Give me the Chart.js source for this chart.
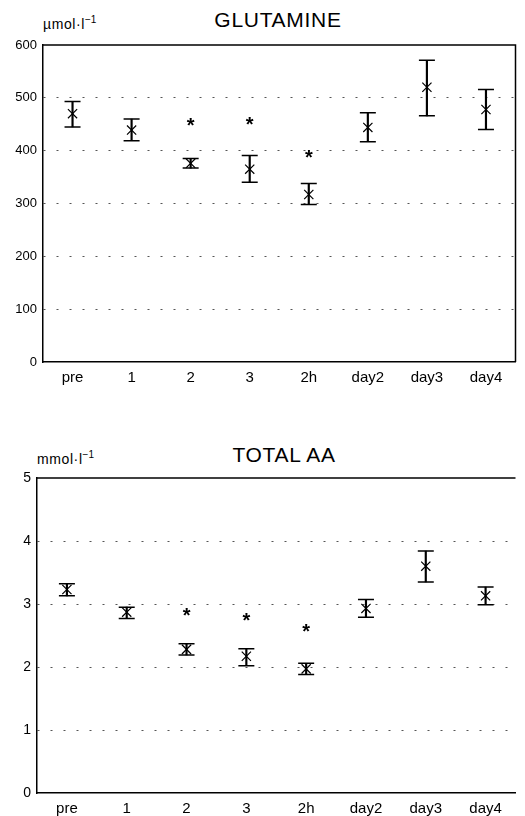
<!DOCTYPE html>
<html>
<head>
<meta charset="utf-8">
<script src="https://cdn.jsdelivr.net/npm/chart.js@4/dist/chart.umd.min.js"></script>
<style>
  html, body { margin: 0; padding: 0; background: #fff; overflow: hidden; }
  body { width: 525px; height: 816px; position: relative; font-family: "Liberation Sans", Arial, sans-serif; color: #000; }
  .box { position: absolute; }
  .title { position: absolute; width: 300px; text-align: center; font-size: 21px; line-height: 21px; letter-spacing: 0.7px; }
  .unit { position: absolute; font-size: 14px; line-height: 16px; letter-spacing: 0.6px; }
  .unit sup { font-size: 10px; vertical-align: 6px; line-height: 0; letter-spacing: 0; }
</style>
</head>
<body>
<div class="title" style="left:128px; top:9px;">GLUTAMINE</div>
<div class="unit" style="left:43px; top:16px;">µmol·l<sup>−1</sup></div>
<div class="box" style="left:0; top:0; width:525px; height:385px;"><canvas id="glu"></canvas></div>

<div class="title" style="left:134px; top:444px;">TOTAL AA</div>
<div class="unit" style="left:37px; top:451px;">mmol·l<sup>−1</sup></div>
<div class="box" style="left:0; top:400px; width:525px; height:416px;"><canvas id="aa"></canvas></div>

<script>
// Time points
const labels = ['pre', '1', '2', '3', '2h', 'day2', 'day3', 'day4'];

// Glutamine (µmol/l): mean and error bar ends
const gluMean = [470, 439, 376, 365, 317, 444, 520, 478];
const gluLow  = [445, 419, 367, 340, 298, 417, 466, 440];
const gluHigh = [493, 460, 385, 391, 338, 472, 571, 516];
const gluSig  = [null, null, 455, 457, 395, null, null, null];

// Total amino acids (mmol/l)
const aaMean = [3.23, 2.87, 2.28, 2.17, 1.97, 2.93, 3.60, 3.13];
const aaLow  = [3.13, 2.77, 2.19, 2.02, 1.88, 2.79, 3.35, 2.99];
const aaHigh = [3.32, 2.95, 2.37, 2.29, 2.06, 3.07, 3.84, 3.27];
const aaSig  = [null, null, 2.88, 2.80, 2.62, null, null, null];

Chart.defaults.font.family = '"Liberation Sans", Arial, sans-serif';
Chart.defaults.color = '#000';

// draws the "*" significance marks
const sigStars = {
  id: 'sigStars',
  afterDatasetsDraw(chart) {
    const ctx = chart.ctx;
    chart.data.datasets.forEach((ds, i) => {
      if (!ds.sig) return;
      chart.getDatasetMeta(i).data.forEach((pt, j) => {
        if (ds.data[j] == null) return;
        ctx.save();
        ctx.fillStyle = '#000';
        ctx.font = 'bold 20px "Liberation Sans", Arial, sans-serif';
        ctx.textAlign = 'center';
        ctx.textBaseline = 'middle';
        ctx.fillText('*', pt.x, pt.y + 5);
        ctx.restore();
      });
    });
  }
};

// top (and right) lines of the frame
const frame = {
  id: 'frame',
  afterDraw(chart, args, opts) {
    const { ctx, chartArea: a } = chart;
    ctx.save();
    ctx.strokeStyle = '#000';
    ctx.lineWidth = 1.5;
    ctx.beginPath();
    ctx.moveTo(a.left, a.top);
    ctx.lineTo(a.right, a.top);
    if (opts.right) ctx.lineTo(a.right, a.bottom);
    ctx.stroke();
    ctx.restore();
  }
};

const makeChart = (id, mean, low, high, sig, yMax, step, opts) => {
  const ctx = document.getElementById(id);
  return new Chart(ctx, {
    type: 'bar',
    data: {
      labels: labels,
      datasets: [
        // whiskers
        {
          type: 'bar',
          data: low.map((v, i) => [v, high[i]]),
          backgroundColor: '#000',
          borderWidth: 0,
          barThickness: 1.5,
        },
        // caps
        {
          type: 'line', data: high, showLine: false,
          pointStyle: 'line', pointRadius: 8, borderColor: '#000', borderWidth: 1.5,
        },
        {
          type: 'line', data: low, showLine: false,
          pointStyle: 'line', pointRadius: 8, borderColor: '#000', borderWidth: 1.5,
        },
        // means
        {
          type: 'line', data: mean, showLine: false,
          pointStyle: 'crossRot', pointRadius: 6.5, borderColor: '#000', borderWidth: 1.2,
        },
        // significance
        {
          type: 'line', data: sig, showLine: false, pointRadius: 0, sig: true,
        },
      ],
    },
    options: {
      responsive: true,
      maintainAspectRatio: false,
      animation: false,
      events: [],
      layout: { padding: opts.padding },
      scales: {
        x: {
          offset: true,
          grid: { display: false, drawTicks: false },
          border: { color: '#000', width: 1.5 },
          ticks: { font: { size: 15 }, padding: 7, maxRotation: 0 },
          afterFit: (s) => { s.height = 23; },
        },
        y: {
          min: 0,
          max: yMax,
          ticks: { stepSize: step, font: { size: opts.yFont }, padding: 6 },
          grid: {
            drawTicks: false,
            lineWidth: 1,
            color: (c) => (c.tick && (c.tick.value === 0 || c.tick.value === yMax)) ? 'rgba(0,0,0,0)' : '#555',
          },
          border: { color: '#000', width: 1.5, dash: [2, 11] },
          afterFit: (s) => { s.width = opts.yWidth; },
        },
      },
      plugins: {
        legend: { display: false },
        tooltip: { enabled: false },
        frame: { right: opts.rightLine },
      },
    },
    plugins: [sigStars, frame],
  });
};

makeChart('glu', gluMean, gluLow, gluHigh, gluSig, 600, 100,
  { padding: { top: 45, right: 7, left: 0, bottom: 0 }, yWidth: 43, yFont: 13, rightLine: true });
makeChart('aa', aaMean, aaLow, aaHigh, aaSig, 5, 1,
  { padding: { top: 78, right: 0, left: 0, bottom: 0 }, yWidth: 37, yFont: 14, rightLine: false });
</script>
</body>
</html>
